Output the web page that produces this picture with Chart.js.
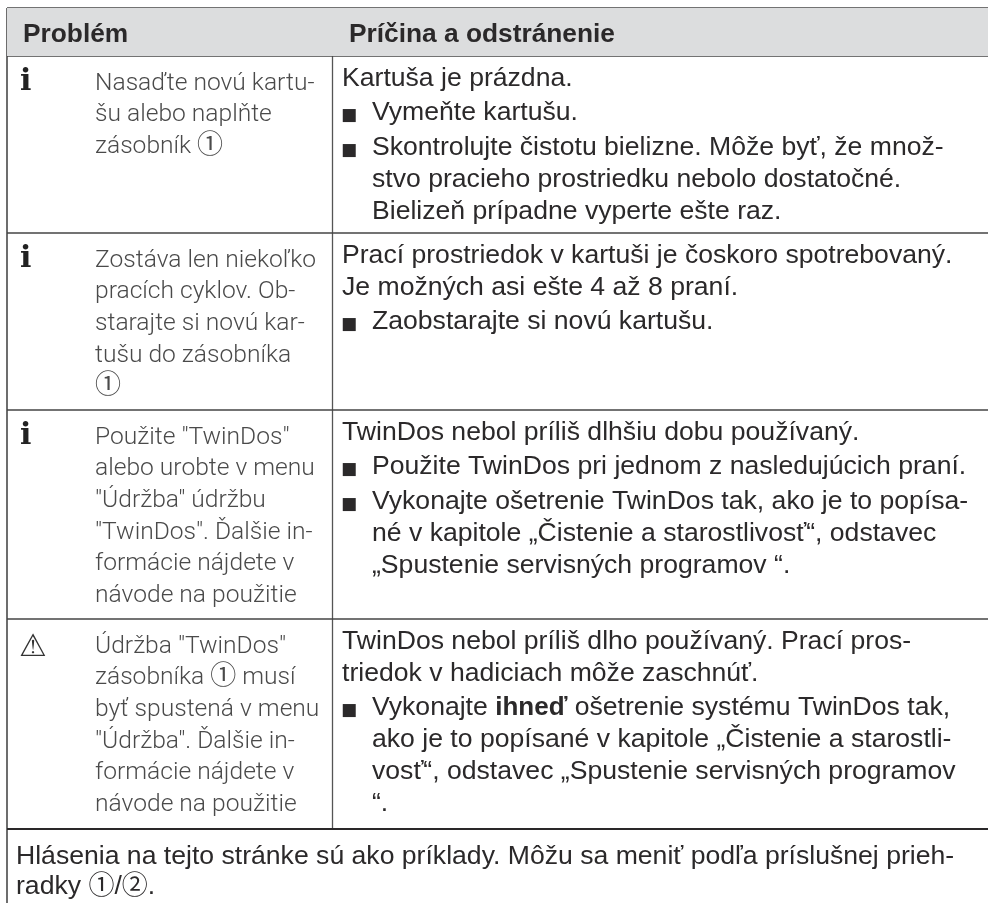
<!DOCTYPE html>
<html>
<head>
<meta charset="utf-8">
<title>Problém</title>
<script src="https://cdn.jsdelivr.net/npm/chart.js@4"></script>
<style>
html, body { margin: 0; padding: 0; background: #fff; }
canvas { display: block; }
</style>
</head>
<body>
<canvas id="myChart" width="988" height="903"></canvas>
<script>
// table header and cell text, one list per column
const headers = ['Problém', 'Príčina a odstránenie'];
const rowIcons = ['i', 'i', 'i', '⚠'];
const problemLines = [
    ['Nasaďte novú kartu-', 'šu alebo naplňte', 'zásobník ①'],
    ['Zostáva len niekoľko', 'pracích cyklov. Ob-', 'starajte si novú kar-', 'tušu do zásobníka', '①'],
    ['Použite "TwinDos"', 'alebo urobte v menu', '"Údržba" údržbu', '"TwinDos". Ďalšie in-', 'formácie nájdete v', 'návode na použitie'],
    ['Údržba "TwinDos"', 'zásobníka ① musí', 'byť spustená v menu', '"Údržba". Ďalšie in-', 'formácie nájdete v', 'návode na použitie']
];
// "* " starts a bullet, "  " continues one, **x** is bold
const causeLines = [
    ['Kartuša je prázdna.', '* Vymeňte kartušu.', '* Skontrolujte čistotu bielizne. Môže byť, že množ-', '  stvo pracieho prostriedku nebolo dostatočné.', '  Bielizeň prípadne vyperte ešte raz.'],
    ['Prací prostriedok v kartuši je čoskoro spotrebovaný.', 'Je možných asi ešte 4 až 8 praní.', '* Zaobstarajte si novú kartušu.'],
    ['TwinDos nebol príliš dlhšiu dobu používaný.', '* Použite TwinDos pri jednom z nasledujúcich praní.', '* Vykonajte ošetrenie TwinDos tak, ako je to popísa-', '  né v kapitole „Čistenie a starostlivosť“, odstavec', '  „Spustenie servisných programov “.'],
    ['TwinDos nebol príliš dlho používaný. Prací pros-', 'triedok v hadiciach môže zaschnúť.', '* Vykonajte **ihneď** ošetrenie systému TwinDos tak,', '  ako je to popísané v kapitole „Čistenie a starostli-', '  vosť“, odstavec „Spustenie servisných programov', '  “.']
];
const noteLines = ['Hlásenia na tejto stránke sú ako príklady. Môžu sa meniť podľa príslušnej prieh-', 'radky ①/②.'];

// table geometry, same units as the axes
const tableLeft = 7;
const tableRight = 988;
const columnEdge = 332.5;
const rowEdges = [8, 56, 233, 410, 619, 829];
const pageBottom = 903;

const SANS = '"Liberation Sans", Arial, sans-serif';

function hline(y, color, width) {
    return {
        type: 'line',
        data: [{ x: tableLeft, y: y }, { x: tableRight, y: y }],
        borderColor: color,
        borderWidth: width,
        pointRadius: 0
    };
}
function vline(x, y0, y1, color, width) {
    return {
        type: 'line',
        data: [{ x: x, y: y0 }, { x: x, y: y1 }],
        borderColor: color,
        borderWidth: width,
        pointRadius: 0
    };
}

const datasets = [];
// header band
datasets.push({
    type: 'line',
    data: [{ x: tableLeft, y: rowEdges[0] }, { x: tableRight, y: rowEdges[0] }],
    borderWidth: 0,
    pointRadius: 0,
    fill: { value: rowEdges[1] },
    backgroundColor: '#dcddde'
});
rowEdges.forEach((y, i) => {
    const last = i === rowEdges.length - 1;
    datasets.push(hline(y, last ? '#2a2829' : '#444', last ? 2 : 1.3));
});
datasets.push(vline(tableLeft, rowEdges[0], pageBottom, '#555', 1.7));
datasets.push(vline(columnEdge, rowEdges[0], rowEdges[5], '#555', 1.3));

// draws the cell text at scale positions
const tableText = {
    id: 'tableText',
    afterDatasetsDraw(chart) {
        const { ctx, scales } = chart;
        const px = v => scales.x.getPixelForValue(v);
        const py = v => scales.y.getPixelForValue(v);
        const put = (text, x, y, font, color) => {
            ctx.font = font;
            ctx.fillStyle = color;
            ctx.fillText(text, px(x), py(y));
            return ctx.measureText(text).width;
        };
        // circled digits are bigger than the text around them
        const putLine = (text, x, y, font, color) => {
            text.split(/([①②])/).forEach(run => {
                if (!run) return;
                const circled = run === '①' || run === '②';
                x += put(run, x, y, circled ? '26px "Noto Sans CJK JP"' : font, color);
            });
            return x;
        };
        ctx.save();
        ctx.textBaseline = 'alphabetic';
        const body = '26.6px ' + SANS;
        const bold = 'bold 26px ' + SANS;
        const ink = '#2b292a';

        put(headers[0], 23, 41.5, 'bold 26.3px ' + SANS, ink);
        put(headers[1], 349, 41.5, 'bold 26.3px ' + SANS, ink);

        problemLines.forEach((lines, r) => {
            const top = rowEdges[r + 1];
            const icon = rowIcons[r];
            if (icon === 'i') {
                put(icon, 20, top + 34, 'bold 30px "DejaVu Serif"', '#222');
            } else {
                put(icon, 19, top + 37, '31px "DejaVu Sans"', '#333');
            }
            lines.forEach((line, i) => {
                putLine(line, 95, top + 33.6 + i * 31.7, '300 24.6px Roboto, ' + SANS, '#4a4a4a');
            });
        });

        causeLines.forEach((lines, r) => {
            let y = rowEdges[r + 1] + 29.6;
            lines.forEach((line, i) => {
                if (i > 0) y += line.startsWith('* ') ? 34.5 : 32;
                let x = 342;
                let text = line;
                if (line.startsWith('* ')) {
                    put('■', 341, y, '17px "DejaVu Sans"', ink);
                    x = 372;
                    text = line.slice(2);
                } else if (line.startsWith('  ')) {
                    x = 372;
                    text = line.slice(2);
                }
                text.split('**').forEach((run, k) => {
                    x = putLine(run, x, y, k % 2 ? bold : body, ink);
                });
            });
        });

        noteLines.forEach((line, i) => {
            putLine(line, 16, 863.5 + i * 30.5, body, ink);
        });
        ctx.restore();
    }
};

const ctx = document.getElementById('myChart').getContext('2d');
const myChart = new Chart(ctx, {
    type: 'scatter',
    data: { datasets: datasets },
    options: {
        responsive: false,
        animation: false,
        layout: { padding: 0 },
        plugins: { legend: { display: false }, tooltip: { enabled: false } },
        scales: {
            x: { type: 'linear', min: 0, max: 988, display: false },
            y: { type: 'linear', min: 0, max: pageBottom, reverse: true, display: false }
        }
    },
    plugins: [tableText]
});
</script>
</body>
</html>
